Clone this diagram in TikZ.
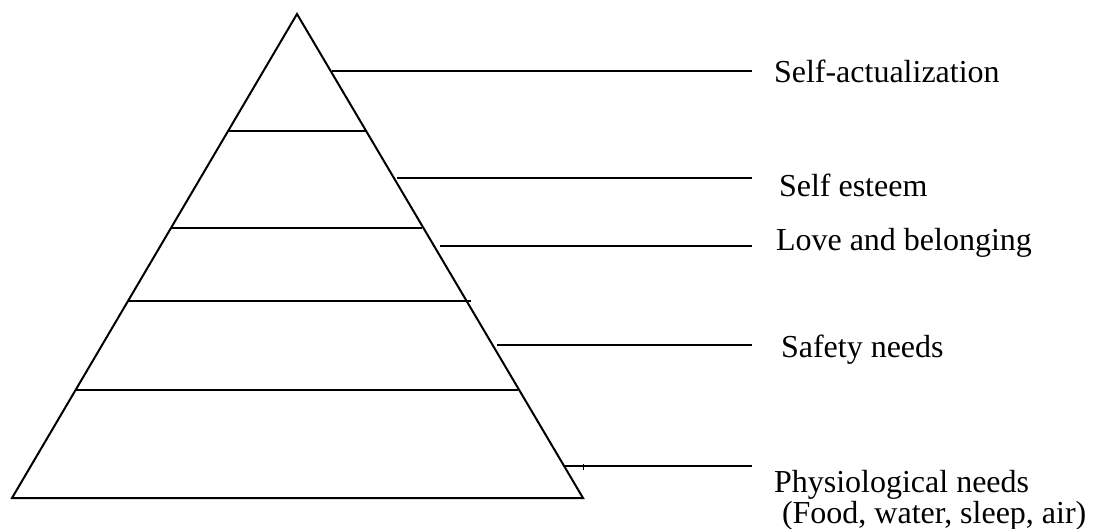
\documentclass[tikz,border=0pt]{standalone}
\usepackage{fontspec}
\setmainfont{Liberation Serif}
\tikzset{need/.style={anchor=base west, inner sep=0pt, font=\fontsize{16}{19}\selectfont}}
\begin{document}
\begin{tikzpicture}[x=0.5pt, y=-0.5pt, line width=1pt]
\useasboundingbox (0,0) rectangle (1096,529);
% pyramid
\coordinate (top) at (297,14);
\coordinate (bl) at (12,498);
\coordinate (br) at (583,498);
\draw (bl) -- (top) -- (br) -- cycle;
  \draw (229,131) -- (366,131);
  \draw (171,228) -- (422,228);
  \draw (128,301) -- (471,301);
  \draw (76,390) -- (518,390);
% labels
\node[need] (selfact) at (773,83) {Self-actualization};
\node[need] (esteem) at (778,197) {Self esteem};
\node[need] (love) at (775,250) {Love and belonging};
\node[need] (safety) at (780,357) {Safety needs};
\node[need] (physio) at (773,492) {Physiological needs};
\node[need] (food) at (781,523) {(Food, water, sleep, air)};
% leader lines
\coordinate (a1) at (332,71);  \coordinate (b1) at (752,71);
\coordinate (a2) at (397,178); \coordinate (b2) at (752,178);
\coordinate (a3) at (440,246); \coordinate (b3) at (752,246);
\coordinate (a4) at (497,345); \coordinate (b4) at (752,345);
\coordinate (a5) at (565,466); \coordinate (b5) at (752,466);
  \draw (a1) -- (b1);
  \draw (a2) -- (b2);
  \draw (a3) -- (b3);
  \draw (a4) -- (b4);
  \draw (a5) -- (b5);
  \draw[line width=0.5pt] (583,464) -- (583,470);
\end{tikzpicture}
\end{document}
